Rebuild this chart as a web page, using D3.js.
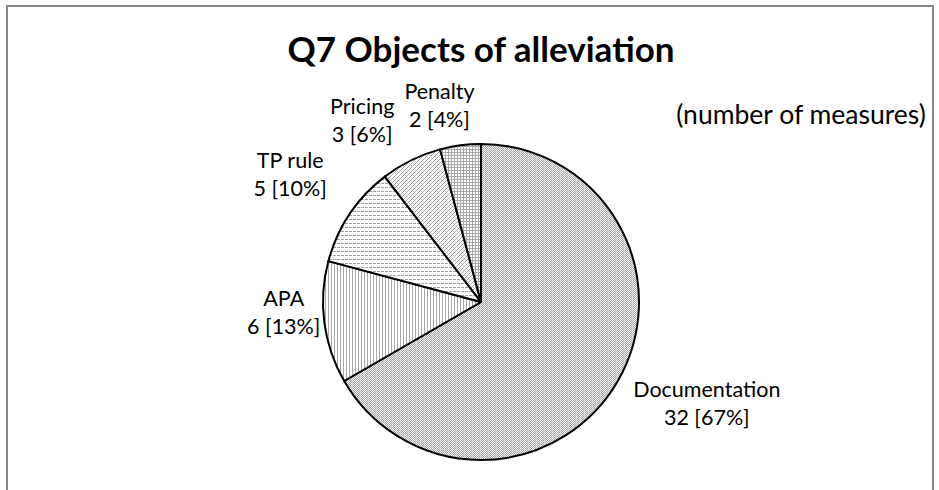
<!DOCTYPE html>
<html>
<head>
<meta charset="utf-8">
<script src="https://cdn.jsdelivr.net/npm/d3@7"></script>
<style>
  body { margin: 0; background: #fff; }
  svg text { font-family: Lato, "Open Sans", sans-serif; fill: #000; }
</style>
</head>
<body>
<div id="chart"></div>
<script>
// data
const categories = ["Documentation", "APA", "TP rule", "Pricing", "Penalty"];
const counts = [32, 6, 5, 3, 2];
const patternIds = ["pDoc", "pApa", "pTp", "pPrice", "pPen"];
// small nudges for the outside-end labels (layout only)
const labelNudge = [[50, -1], [4, -16], [-22, -15], [-29, 0], [-15, 4]];

const width = 939, height = 490;
const cx = 481, cy = 302, radius = 158;

const svg = d3.select("#chart").append("svg")
    .attr("width", width)
    .attr("height", height);

// chart area frame
svg.append("rect")
    .attr("x", 7).attr("y", 6)
    .attr("width", 926).attr("height", 500)
    .attr("fill", "#fff")
    .attr("stroke", "#868686")
    .attr("stroke-width", 2);

// fill patterns, roughly like the Excel ones
const defs = svg.append("defs");
function pattern(id, w, h) {
    return defs.append("pattern")
        .attr("id", id)
        .attr("patternUnits", "userSpaceOnUse")
        .attr("width", w).attr("height", h)
        .attr("shape-rendering", "crispEdges");
}
function px(p, x, y, w, h, c) {
    p.append("rect").attr("x", x).attr("y", y).attr("width", w).attr("height", h).attr("fill", c);
}
// Documentation: fine checker
let p = pattern("pDoc", 4, 2);
px(p, 0, 0, 4, 2, "#f4f4f4");
px(p, 0, 0, 1, 1, "#9c9c9c"); px(p, 2, 0, 1, 1, "#9c9c9c");
px(p, 1, 1, 1, 1, "#9c9c9c"); px(p, 3, 1, 1, 1, "#b8b8b8");
// APA: vertical lines
p = pattern("pApa", 3, 3);
px(p, 0, 0, 3, 3, "#fff");
px(p, 0, 0, 1, 3, "#a8a8a8");
// TP rule: dashed horizontal lines
p = pattern("pTp", 4, 4);
px(p, 0, 0, 4, 4, "#fff");
px(p, 0, 1, 3, 1, "#a0a0a0");
// Pricing: fine diagonal
p = pattern("pPrice", 4, 4);
px(p, 0, 0, 4, 4, "#fff");
px(p, 0, 3, 1, 1, "#a8a8a8"); px(p, 1, 2, 1, 1, "#a8a8a8");
px(p, 2, 1, 1, 1, "#a8a8a8"); px(p, 3, 0, 1, 1, "#a8a8a8");
px(p, 0, 1, 1, 1, "#d8d8d8"); px(p, 2, 3, 1, 1, "#d8d8d8");
// Penalty: small grid
p = pattern("pPen", 3, 3);
px(p, 0, 0, 3, 3, "#fff");
px(p, 0, 0, 3, 1, "#a8a8a8");
px(p, 0, 0, 1, 3, "#a8a8a8");

const total = d3.sum(counts);
const data = categories.map((c, i) => ({ name: c, value: counts[i], pat: patternIds[i], i: i }));

const pie = d3.pie().sort(null).value(d => d.value);
const arcs = pie(data);
const arc = d3.arc().innerRadius(0).outerRadius(radius);
const labelArc = d3.arc().innerRadius(radius + 45).outerRadius(radius + 45);

const g = svg.append("g").attr("transform", `translate(${cx},${cy})`);

g.selectAll("path")
    .data(arcs)
    .join("path")
    .attr("d", arc)
    .attr("fill", d => `url(#${d.data.pat})`)
    .attr("stroke", "#000")
    .attr("stroke-width", 2)
    .attr("stroke-linejoin", "round");

// labels: name on first line, "n [pct%]" below
const lineGap = 28;
const lab = g.selectAll("g.lab")
    .data(arcs)
    .join("g")
    .attr("class", "lab")
    .attr("transform", d => {
        const c = labelArc.centroid(d);
        const n = labelNudge[d.data.i];
        return `translate(${c[0] + n[0]},${c[1] + n[1]})`;
    });

lab.append("text")
    .attr("text-anchor", "middle")
    .attr("y", -lineGap / 2 + 8)
    .style("font-size", "21.5px")
    .text(d => d.data.name);

lab.append("text")
    .attr("text-anchor", "middle")
    .attr("y", lineGap / 2 + 8)
    .style("font-size", "21.5px")
    .text(d => `${d.data.value} [${Math.round(d.data.value / total * 100)}%]`);

// title
svg.append("text")
    .attr("x", 481).attr("y", 62)
    .attr("text-anchor", "middle")
    .style("font-size", "35px")
    .style("font-weight", "bold")
    .text("Q7 Objects of alleviation");

svg.append("text")
    .attr("x", 801).attr("y", 124)
    .attr("text-anchor", "middle")
    .style("font-size", "26.5px")
    .text("(number of measures)");
</script>
</body>
</html>
